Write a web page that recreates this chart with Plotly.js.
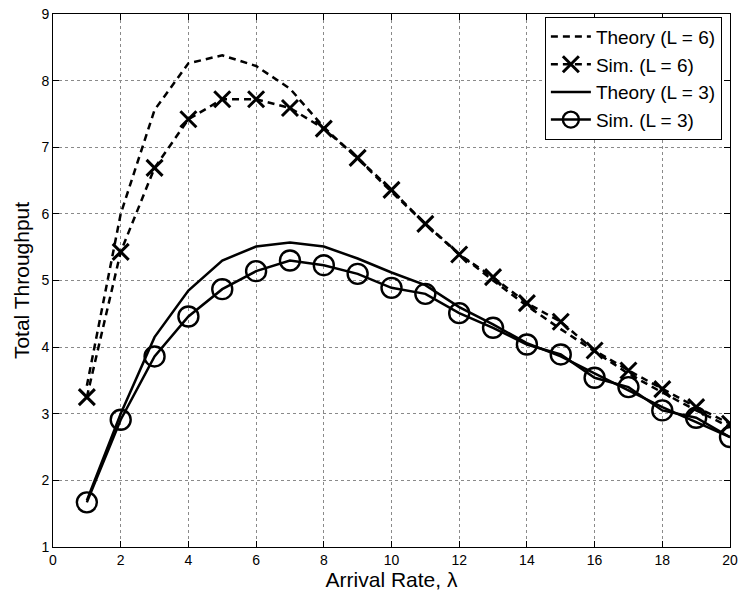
<!DOCTYPE html>
<html>
<head>
<meta charset="utf-8">
<script src="https://cdn.plot.ly/plotly-3.0.1.min.js"></script>
<style>html,body{margin:0;padding:0;background:#fff;}#chart{width:741px;height:594px;}</style>
</head>
<body>
<div id="chart"></div>
<script>
const arrivalRate = [1,2,3,4,5,6,7,8,9,10,11,12,13,14,15,16,17,18,19,20];
const theoryL6 = [3.42,6.00,7.56,8.26,8.38,8.22,7.88,7.30,6.83,6.33,5.85,5.40,5.00,4.62,4.27,3.93,3.60,3.32,3.05,2.80];
const simL6    = [3.25,5.43,6.69,7.42,7.72,7.72,7.59,7.28,6.84,6.36,5.85,5.39,5.05,4.66,4.38,3.95,3.65,3.37,3.10,2.85];
const theoryL3 = [1.70,3.00,4.15,4.85,5.30,5.51,5.57,5.51,5.33,5.12,4.93,4.60,4.34,4.06,3.86,3.60,3.35,3.10,2.88,2.65];
const simL3    = [1.67,2.91,3.86,4.46,4.87,5.14,5.30,5.23,5.10,4.89,4.80,4.51,4.29,4.04,3.89,3.54,3.40,3.05,2.94,2.65];
const seriesNames = ['Theory (L = 6)','Sim. (L = 6)','Theory (L = 3)','Sim. (L = 3)'];
const xTicks = [0,2,4,6,8,10,12,14,16,18,20];
const yTicks = [1,2,3,4,5,6,7,8,9];

const FONT = 'Liberation Sans, Arial, Helvetica, sans-serif';
const traces = [
  {x: arrivalRate, y: theoryL6, name: seriesNames[0], mode: 'lines',
   line: {color: '#000', width: 2.5, dash: '7px,5px'}},
  {x: arrivalRate, y: simL6, name: seriesNames[1], mode: 'lines+markers',
   line: {color: '#000', width: 2.5, dash: '7px,5px'},
   marker: {symbol: 'x-thin-open', size: 16, color: '#000', line: {color: '#000', width: 3}}},
  {x: arrivalRate, y: theoryL3, name: seriesNames[2], mode: 'lines',
   line: {color: '#000', width: 2.5}},
  {x: arrivalRate, y: simL3, name: seriesNames[3], mode: 'lines+markers',
   line: {color: '#000', width: 2.5},
   marker: {symbol: 'circle-open', size: 20, color: '#000', line: {color: '#000', width: 2.4}}}
];

const axisCommon = {
  showline: true, linecolor: '#000', linewidth: 1, mirror: 'ticks',
  ticks: 'inside', ticklen: 6, tickcolor: '#000', tickwidth: 1,
  showgrid: true, gridcolor: '#8a8a8a', griddash: 'dot', gridwidth: 1,
  zeroline: false, tickfont: {family: FONT, size: 14, color: '#000'}
};

const layout = {
  width: 741, height: 594,
  margin: {l: 53, r: 11, t: 14, b: 47},
  paper_bgcolor: '#fff', plot_bgcolor: '#fff',
  showlegend: true,
  font: {family: FONT, color: '#000'},
  xaxis: Object.assign({}, axisCommon, {
    range: [0, 20], tickvals: xTicks, ticktext: xTicks.map(String),
    title: {text: 'Arrival Rate, λ', font: {family: FONT, size: 21, color: '#000'}, standoff: 2}
  }),
  yaxis: Object.assign({}, axisCommon, {
    range: [1, 9], tickvals: yTicks, ticktext: yTicks.map(String),
    title: {text: 'Total Throughput', font: {family: FONT, size: 21, color: '#000'}, standoff: 6}
  }),
  legend: {
    x: 0.988, xanchor: 'right', y: 0.995, yanchor: 'top',
    bgcolor: '#fff', bordercolor: '#000', borderwidth: 1,
    font: {family: FONT, size: 19, color: '#000'},
    tracegroupgap: 0, itemwidth: 40
  }
};

Plotly.newPlot('chart', traces, layout, {displayModeBar: false, staticPlot: true});
</script>
</body>
</html>
